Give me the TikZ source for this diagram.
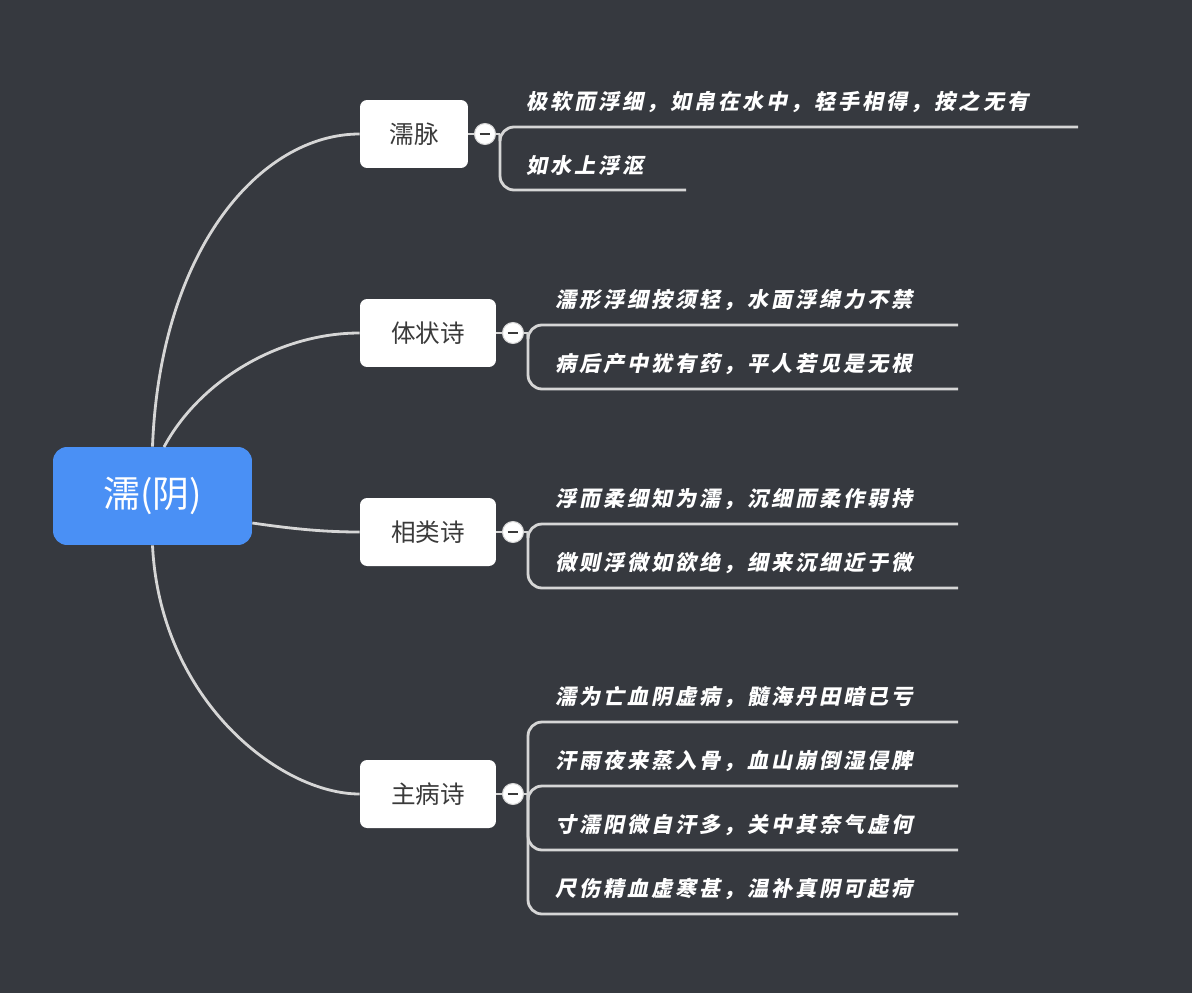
\documentclass[tikz,border=0pt]{standalone}
\usepackage{fontspec}
\newfontfamily\cjk{Noto Sans CJK SC}
\newfontfamily\cjkleaf[FakeSlant=0.2, LetterSpace=14]{Noto Sans CJK SC}
\usetikzlibrary{positioning}
\definecolor{bgdark}{HTML}{36393F}
\definecolor{rootblue}{HTML}{4A90F5}
\definecolor{linegray}{HTML}{D6D6D6}
\definecolor{boxtext}{HTML}{3A3A3A}
\tikzset{
  branch/.style={draw=none, fill=white, rounded corners=4pt, minimum height=1.36cm, font=\cjk\fontsize{14}{16}\selectfont, text=boxtext, inner sep=0pt},
  conn/.style={draw=linegray, line width=1.6pt},
  fold/.style={circle, fill=white, draw=linegray, line width=0.6pt, minimum size=0.42cm, inner sep=0pt},
  leaf/.style={anchor=south west, font=\cjkleaf\bfseries\fontsize{12}{14}\selectfont, text=white, inner sep=0pt, yshift=8pt},
}
\begin{document}
\begin{tikzpicture}[x=0.02cm, y=-0.02cm]
\fill[bgdark] (0,0) rectangle (1192,993);
\useasboundingbox (0,0) rectangle (1192,993);
% root and branches
\node[fill=rootblue, rounded corners=8pt, minimum width=3.98cm, minimum height=1.96cm, text=white, font=\cjk\fontsize{21}{24}\selectfont] (root) at (152.5,496) {濡(阴)};
\node[branch, minimum width=2.16cm] (b1) at (414,134) {濡脉};
\node[branch, minimum width=2.72cm] (b2) at (428,333) {体状诗};
\node[branch, minimum width=2.72cm] (b3) at (428,532) {相类诗};
\node[branch, minimum width=2.72cm] (b4) at (428,794) {主病诗};
\draw[conn] (root.north) .. controls (160,250) and (260,134) .. (b1.west);
\draw[conn] (164,447) .. controls (200,380) and (280,333) .. (b2.west);
\draw[conn] (root.east) ++(0,27) coordinate (re) (re) .. controls (300,530) and (330,532) .. (b3.west);
\draw[conn] (root.south) .. controls (160,700) and (280,794) .. (b4.west);
% leaves of b1
\coordinate (j1) at (500,134);
\coordinate (e11) at (1078,127);
\coordinate (e12) at (686,190);
\draw[conn] (b1.east) -- (j1);
\draw[conn, rounded corners=8pt] (j1) |- (e11);
\draw[conn, rounded corners=8pt] (j1) |- (e12);
\node[leaf] at (526,127) {极软而浮细，如帛在水中，轻手相得，按之无有};
\node[leaf] at (526,190) {如水上浮沤};
% leaves of b2
\coordinate (j2) at (528,333);
\coordinate (e21) at (958,325);
\coordinate (e22) at (958,389);
\draw[conn] (b2.east) -- (j2);
\draw[conn, rounded corners=8pt] (j2) |- (e21);
\draw[conn, rounded corners=8pt] (j2) |- (e22);
\node[leaf] at (555,325) {濡形浮细按须轻，水面浮绵力不禁};
\node[leaf] at (555,389) {病后产中犹有药，平人若见是无根};
% leaves of b3
\coordinate (j3) at (528,532);
\coordinate (e31) at (958,524);
\coordinate (e32) at (958,588);
\draw[conn] (b3.east) -- (j3);
\draw[conn, rounded corners=8pt] (j3) |- (e31);
\draw[conn, rounded corners=8pt] (j3) |- (e32);
\node[leaf] at (555,524) {浮而柔细知为濡，沉细而柔作弱持};
\node[leaf] at (555,588) {微则浮微如欲绝，细来沉细近于微};
% leaves of b4
\coordinate (j4) at (528,794);
\coordinate (e41) at (958,722);
\coordinate (e42) at (958,786);
\coordinate (e43) at (958,850);
\coordinate (e44) at (958,914);
\draw[conn] (b4.east) -- (j4);
\foreach \k in {1,2,3,4}
  \draw[conn, rounded corners=8pt] (j4) |- (e4\k);
\node[leaf] at (555,722) {濡为亡血阴虚病，髓海丹田暗已亏};
\node[leaf] at (555,786) {汗雨夜来蒸入骨，血山崩倒湿侵脾};
\node[leaf] at (555,850) {寸濡阳微自汗多，关中其奈气虚何};
\node[leaf] at (555,914) {尺伤精血虚寒甚，温补真阴可起疴};
% fold markers
\foreach \n/\x/\y in {1/485/134, 2/513/333, 3/513/532, 4/513/794} {
  \node[fold] (f\n) at (\x,\y) {};
  \draw[boxtext, line width=1.2pt] ([xshift=-3pt]f\n.center) -- ([xshift=3pt]f\n.center);
}
\end{tikzpicture}
\end{document}
